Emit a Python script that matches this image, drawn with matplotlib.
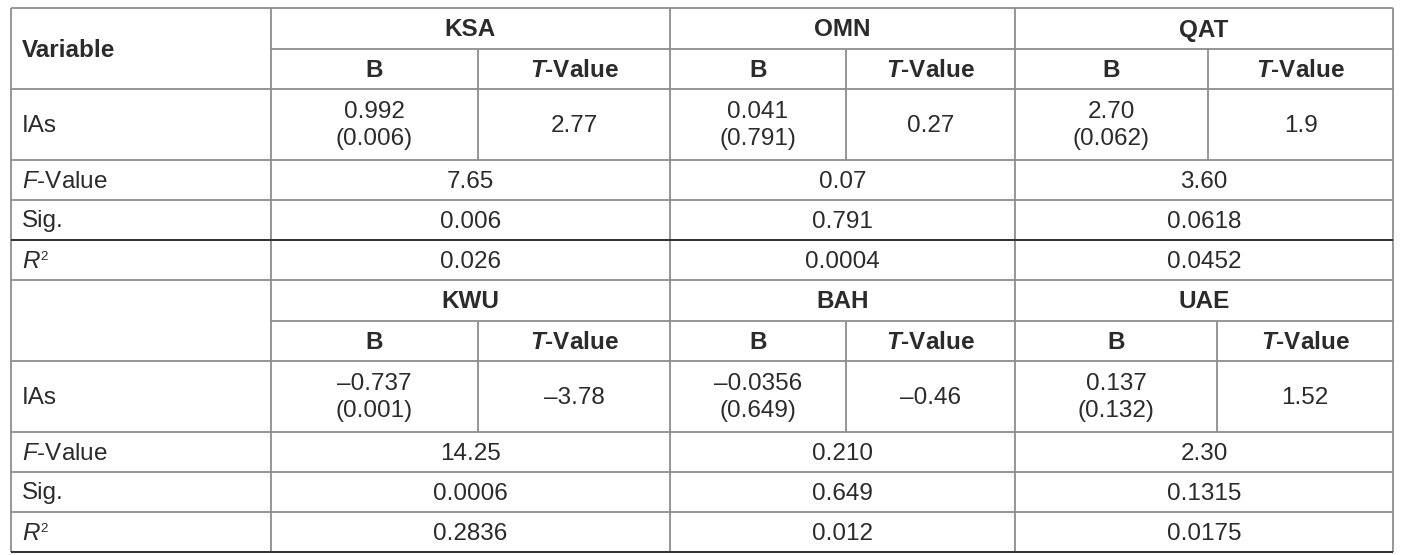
import matplotlib.pyplot as plt

plt.rcParams['font.family'] = ['Liberation Sans', 'DejaVu Sans']
plt.rcParams['mathtext.fontset'] = 'custom'
plt.rcParams['mathtext.rm'] = 'Liberation Sans'
plt.rcParams['mathtext.it'] = 'Liberation Sans:italic'
plt.rcParams['mathtext.bf'] = 'Liberation Sans:bold'
plt.rcParams['mathtext.bfit'] = 'Liberation Sans:bold:italic'

# data
top_countries = ["KSA", "OMN", "QAT"]
top_b = ["0.992", "0.041", "2.70"]
top_p = ["(0.006)", "(0.791)", "(0.062)"]
top_t = ["2.77", "0.27", "1.9"]
top_f = ["7.65", "0.07", "3.60"]
top_sig = ["0.006", "0.791", "0.0618"]
top_r2 = ["0.026", "0.0004", "0.0452"]

bot_countries = ["KWU", "BAH", "UAE"]
bot_b = ["\u20130.737", "\u20130.0356", "0.137"]
bot_p = ["(0.001)", "(0.649)", "(0.132)"]
bot_t = ["\u20133.78", "\u20130.46", "1.52"]
bot_f = ["14.25", "0.210", "2.30"]
bot_sig = ["0.0006", "0.649", "0.1315"]
bot_r2 = ["0.2836", "0.012", "0.0175"]

# layout (pixels)
W, H = 1413, 555
x0, x1 = 11, 1393
col0 = 271
groups = [271, 670, 1015, 1393]
top_split = [478, 846, 1208]
bot_split = [478, 846, 1217]
lc = '#8e8e8e'
dark = '#2a2a2a'
tc = '#2b2b2b'
fs = 17.5
dy = 1.5  # small downward nudge so glyphs sit in the middle of the cells

fig = plt.figure(figsize=(W / 100, H / 100), dpi=100)
ax = fig.add_axes([0, 0, 1, 1])
ax.set_xlim(0, W)
ax.set_ylim(H, 0)
ax.axis('off')


def hline(y, xa=x0, xb=x1, c=lc):
    ax.plot([xa, xb], [y, y], color=c, lw=1.3, solid_capstyle='butt')


def vline(x, ya, yb, c=lc):
    ax.plot([x, x], [ya, yb], color=c, lw=1.3, solid_capstyle='butt')


def txt(x, y, s, ha='center', size=fs, **kw):
    ax.text(x, y + dy, s, ha=ha, va='center', fontsize=size, color=tc, **kw)


def block(y, countries, b, p, t, f, sig, r2, splits, first_label):
    # rows: header, subheader, IAs, F, Sig, R2
    rows = [y, y + 41, y + 81, y + 152, y + 192, y + 232, y + 272]
    for i, name in enumerate(countries):
        xa, xb = groups[i], groups[i + 1]
        s = splits[i]
        txt((xa + xb) / 2, (rows[0] + rows[1]) / 2, name, fontweight='bold')
        txt((xa + s) / 2, (rows[1] + rows[2]) / 2, "B", fontweight='bold')
        txt((s + xb) / 2, (rows[1] + rows[2]) / 2, r"$\mathbfit{T}$-Value", fontweight='bold')
        txt((xa + s) / 2, (rows[2] + rows[3]) / 2 - 14, b[i])
        txt((xa + s) / 2, (rows[2] + rows[3]) / 2 + 13, p[i])
        txt((s + xb) / 2, (rows[2] + rows[3]) / 2, t[i])
        txt((xa + xb) / 2, (rows[3] + rows[4]) / 2, f[i])
        txt((xa + xb) / 2, (rows[4] + rows[5]) / 2, sig[i])
        txt((xa + xb) / 2, (rows[5] + rows[6]) / 2, r2[i])
        vline(s, rows[1], rows[3])
    if first_label:
        txt(22, rows[1], first_label, ha='left', fontweight='bold')
    txt(22, (rows[2] + rows[3]) / 2, "IAs", ha='left')
    txt(22, (rows[3] + rows[4]) / 2, r"$F$-Value", ha='left')
    txt(22, (rows[4] + rows[5]) / 2, "Sig.", ha='left')
    rc = (rows[5] + rows[6]) / 2
    txt(22, rc, "R", ha='left', style='italic')
    txt(40.5, rc - 5, "2", ha='left', size=fs * 0.55)
    hline(rows[1], col0, x1)
    for r in rows[2:]:
        hline(r)
    return rows


rows_top = block(8, top_countries, top_b, top_p, top_t, top_f, top_sig, top_r2, top_split, "Variable")
rows_bot = block(280, bot_countries, bot_b, bot_p, bot_t, bot_f, bot_sig, bot_r2, bot_split, None)

hline(8)
for g in groups[:-1]:
    vline(g, 8, 552)
vline(x0, 8, 552)
vline(x1, 8, 552)
# darker rules seen in the original
hline(rows_top[5], c=dark)
hline(rows_bot[6], c=dark)

fig.savefig("out.png", dpi=100)
